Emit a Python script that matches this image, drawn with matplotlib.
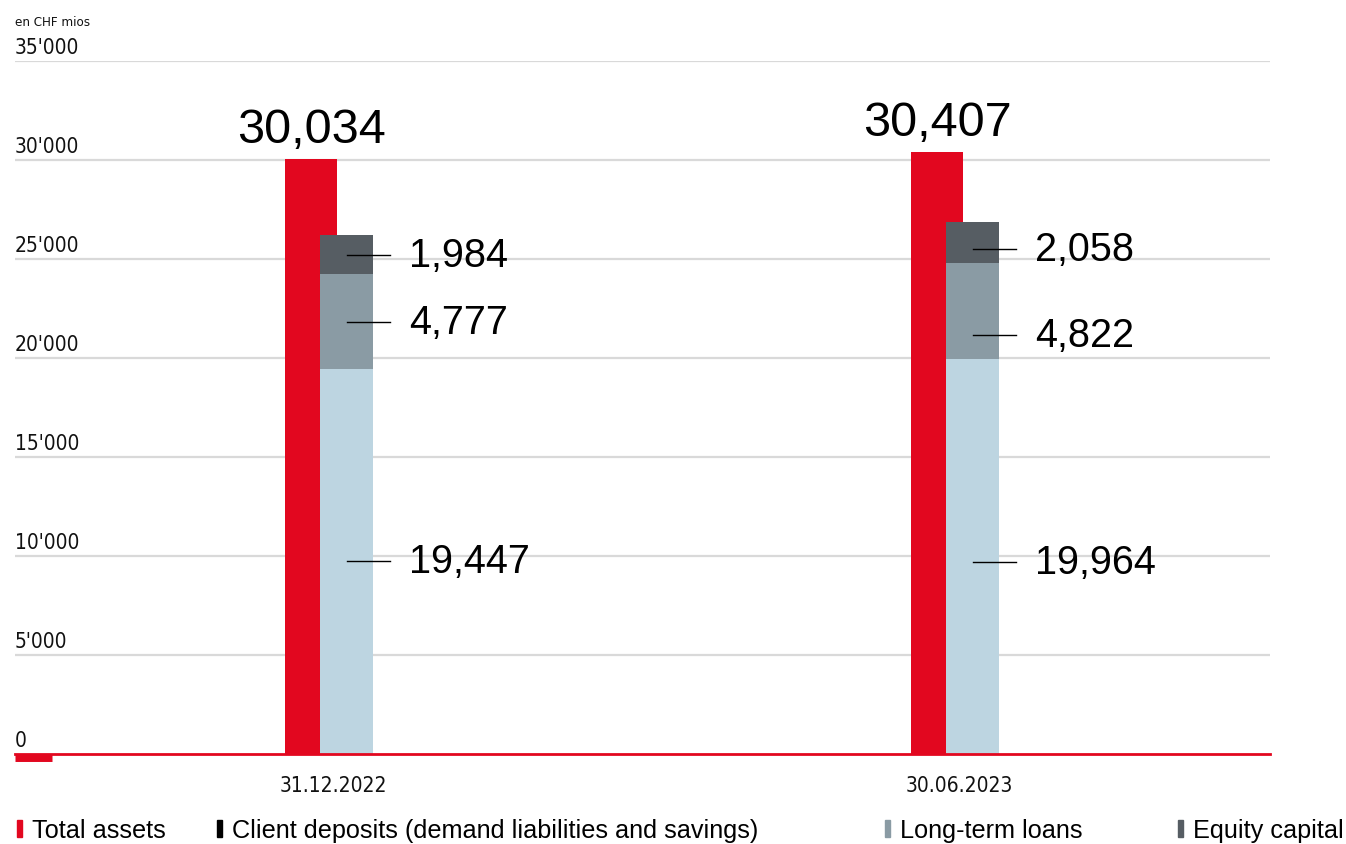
"""Balance sheet overview: total assets vs. funding sources"""
import matplotlib.pyplot as plt
from matplotlib.patches import Rectangle
from matplotlib.font_manager import FontProperties

# data (CHF millions)
dates = ['31.12.2022', '30.06.2023']
total_assets = [30034, 30407]
client_deposits = [19447, 19964]
long_term_loans = [4777, 4822]
equity_capital = [1984, 2058]
y_ticks = [0, 5000, 10000, 15000, 20000, 25000, 30000, 35000]
legend_labels = ['Total assets', 'Client deposits (demand liabilities and savings)',
                 'Long-term loans', 'Equity capital']

RED = '#E2071F'
LIGHT = '#BDD5E1'
MID = '#8A9BA4'
DARK = '#565D63'
GRID = '#D9D9D9'

plt.rcParams['font.family'] = ['Liberation Sans', 'DejaVu Sans']
# condensed face for axis text
cond = FontProperties(family='DejaVu Sans', stretch='condensed', size=15)
cond_small = FontProperties(family='DejaVu Sans', stretch='condensed', size=9.5)

fig = plt.figure(figsize=(13.46, 8.45), dpi=100)
W, H = 1346, 845
ax = fig.add_axes([15 / W, 90 / H, 1255 / W, 693 / H])
ax.set_xlim(-0.503, 1.502)
ax.set_ylim(0, 35000)
ax.axis('off')

# gridlines + tick labels sitting above each line
for v in y_ticks[1:]:
    ax.axhline(v, color=GRID, lw=1.6, zorder=0)
for v in y_ticks:
    ax.text(0, v + 220, f"{v:,}".replace(',', "'"), transform=ax.get_yaxis_transform(),
            ha='left', va='bottom', fontproperties=cond, color='#111111')
ax.text(0, 35000 + 1650, 'en CHF mios', transform=ax.get_yaxis_transform(),
        ha='left', va='bottom', fontproperties=cond_small, color='#111111')

red_off, stack_off = -0.030, 0.027
red_w, stack_w = 0.083, 0.085
x = [0, 1]

for i in x:
    ax.bar(i + red_off, total_assets[i], width=red_w, color=RED, zorder=2)
    ax.text(i + red_off, total_assets[i] + 350, f"{total_assets[i]:,}", ha='center', va='bottom',
            fontsize=35, color='black')

    segs = [client_deposits[i], long_term_loans[i], equity_capital[i]]
    cols = [LIGHT, MID, DARK]
    bottom = 0
    mids = []
    for v, c in zip(segs, cols):
        ax.bar(i + stack_off, v, bottom=bottom, width=stack_w, color=c, zorder=3)
        mids.append(bottom + v / 2)
        bottom += v
    # label leader lines and values
    shift = [0, 0, 0] if i == 0 else [-300, -1200, -300]
    for v, m, s in zip(segs, mids, shift):
        y = m + s
        ax.plot([i + stack_off, i + stack_off + 0.069], [y, y], color='black', lw=1, zorder=4)
        ax.text(i + stack_off + 0.10, y, f"{v:,}", ha='left', va='center', fontsize=28.5,
                color='black')

    ax.text(i + 0.005, -1050, dates[i], ha='center', va='top', fontproperties=cond,
            color='#111111')

# zero line in red with a short heavier stub at the left
ax.axhline(0, color=RED, lw=2, zorder=5, clip_on=False)
stub, = ax.plot([0, 37 / 1255], [-180, -180], color=RED, lw=5,
                solid_capstyle='butt', zorder=5, clip_on=False)
stub.set_transform(ax.get_yaxis_transform())

# legend
leg_x = [17, 217, 885, 1178]
leg_colors = [RED, 'black', MID, DARK]
for lx, c, lab in zip(leg_x, leg_colors, legend_labels):
    fig.patches.append(Rectangle((lx / W, (H - 838) / H), 5 / W, 17 / H, color=c,
                                 transform=fig.transFigure, figure=fig))
    fig.text((lx + 15) / W, (H - 831) / H, lab, ha='left', va='center', fontsize=18.2,
             color='black')

fig.savefig('out.png', dpi=100)
